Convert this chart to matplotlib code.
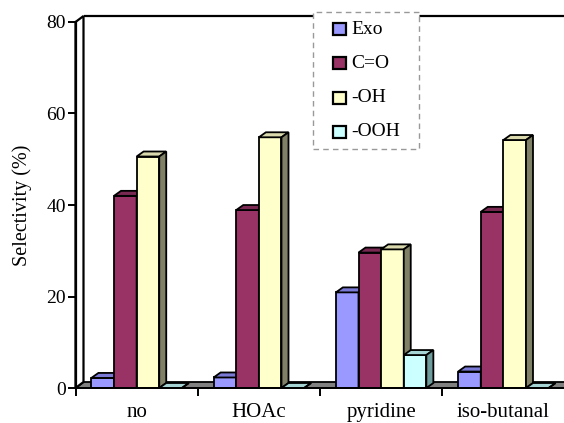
import matplotlib
matplotlib.use("Agg")
import matplotlib.pyplot as plt
from matplotlib.patches import Polygon, Rectangle

plt.rcParams["font.family"] = ["Liberation Serif", "DejaVu Serif"]

# Selectivity (%) per additive
categories = ["no", "HOAc", "pyridine", "iso-butanal"]
series = ["Exo", "C=O", "-OH", "-OOH"]
exo = [2.2, 2.3, 20.9, 3.6]
carbonyl = [42.0, 38.9, 29.6, 38.5]
hydroxyl = [50.6, 54.8, 30.3, 54.2]
hydroperoxide = [0.0, 0.0, 7.2, 0.0]
y_ticks = [0, 20, 40, 60, 80]

values = [exo, carbonyl, hydroxyl, hydroperoxide]
front_colors = ["#9999FF", "#993366", "#FFFFCC", "#CCFFFF"]
top_colors = ["#7A7AD6", "#7A2952", "#D9D9AD", "#A6D4D4"]
side_colors = ["#5C5CA0", "#5C1F3D", "#808066", "#6E9C9C"]

W, H = 564, 423
fig = plt.figure(figsize=(W / 100, H / 100), dpi=100)
ax = fig.add_axes([75.5 / W, 35 / H, 489 / W, 366 / H])
ax.set_xlim(-0.5, 3.5)
ax.set_ylim(0, 80)

# pixel -> data conversion for the pseudo-3D depth
px_x = 4 / 489
px_y = 80 / 366
wall_dx, wall_dy = 8 * px_x, 6 * px_y
bar_dx, bar_dy = 7 * px_x, 5 * px_y
lw = 1.3

# floor
ax.add_patch(Polygon([(-0.5, 0), (4.2, 0), (4.2 + wall_dx, wall_dy),
                      (-0.5 + wall_dx, wall_dy)], closed=True,
                     fc="#808080", ec="black", lw=lw, zorder=1, clip_on=False))
# left wall
ax.add_patch(Polygon([(-0.5, 0), (-0.5 + wall_dx, wall_dy),
                      (-0.5 + wall_dx, 80 + wall_dy), (-0.5, 80)], closed=True,
                     fc="white", ec="black", lw=1.6, zorder=1, clip_on=False))
# back wall top edge
ax.plot([-0.5 + wall_dx, 4.2], [80 + wall_dy, 80 + wall_dy], color="black",
        lw=1.6, zorder=1, clip_on=False, solid_capstyle="butt")

width = 0.185
xs = list(range(len(categories)))
for k, vals in enumerate(values):
    base = 3 + 3 * k
    pos = [i + (k - 1.5) * width for i in xs]
    ax.bar(pos, vals, width=width, color=front_colors[k], edgecolor="black",
           linewidth=lw, zorder=base)
    for x, h in zip(pos, vals):
        x0, x1 = x - width / 2, x + width / 2
        ax.add_patch(Polygon([(x0, h), (x1, h), (x1 + bar_dx, h + bar_dy),
                              (x0 + bar_dx, h + bar_dy)], closed=True,
                             fc=top_colors[k], ec="black", lw=lw,
                             zorder=base + 1, joinstyle="miter"))
        ax.add_patch(Polygon([(x1, 0), (x1 + bar_dx, bar_dy),
                              (x1 + bar_dx, h + bar_dy), (x1, h)], closed=True,
                             fc=side_colors[k], ec="black", lw=lw,
                             zorder=base + 2, joinstyle="miter"))

for s in ax.spines.values():
    s.set_visible(False)
ax.spines["left"].set_visible(True)
ax.spines["left"].set_linewidth(1.6)
ax.spines["bottom"].set_visible(True)
ax.spines["bottom"].set_linewidth(1.4)
ax.spines["bottom"].set_zorder(20)

ax.set_yticks(y_ticks)
ax.set_yticklabels([str(v) for v in y_ticks], fontsize=14)
ax.tick_params(axis="y", direction="out", length=6, width=1.4, pad=1)

ax.set_xticks([i - 0.5 for i in xs])
ax.set_xticklabels([])
ax.set_xticks(xs, minor=True)
ax.set_xticklabels(categories, minor=True, fontsize=15)
ax.tick_params(axis="x", which="major", direction="out", length=6, width=1.4)
ax.tick_params(axis="x", which="minor", length=0, pad=11)

fig.text(22 / W, 1 - 205 / H, "Selectivity (%)", rotation=90, fontsize=14.5,
         ha="center", va="center")

# legend box drawn in figure pixel coordinates
def fx(px):
    return px / W


def fy(py):
    return 1 - py / H


fig.add_artist(Rectangle((fx(313), fy(149)), fx(419) - fx(313), fy(12) - fy(149),
                         transform=fig.transFigure, fc="white", ec="#999999",
                         lw=1.0, ls=(0, (4, 3)), zorder=30))
row_y = [29, 63, 98, 132]
for c, label, ry in zip(front_colors, series, row_y):
    fig.add_artist(Rectangle((fx(333), fy(ry + 6)), fx(346) - fx(333),
                             fy(ry - 6) - fy(ry + 6), transform=fig.transFigure,
                             fc=c, ec="black", lw=1.6, zorder=31))
    fig.text(fx(351), fy(ry), label, fontsize=14, ha="left", va="center",
             zorder=32)

fig.savefig("out.png", dpi=100)
